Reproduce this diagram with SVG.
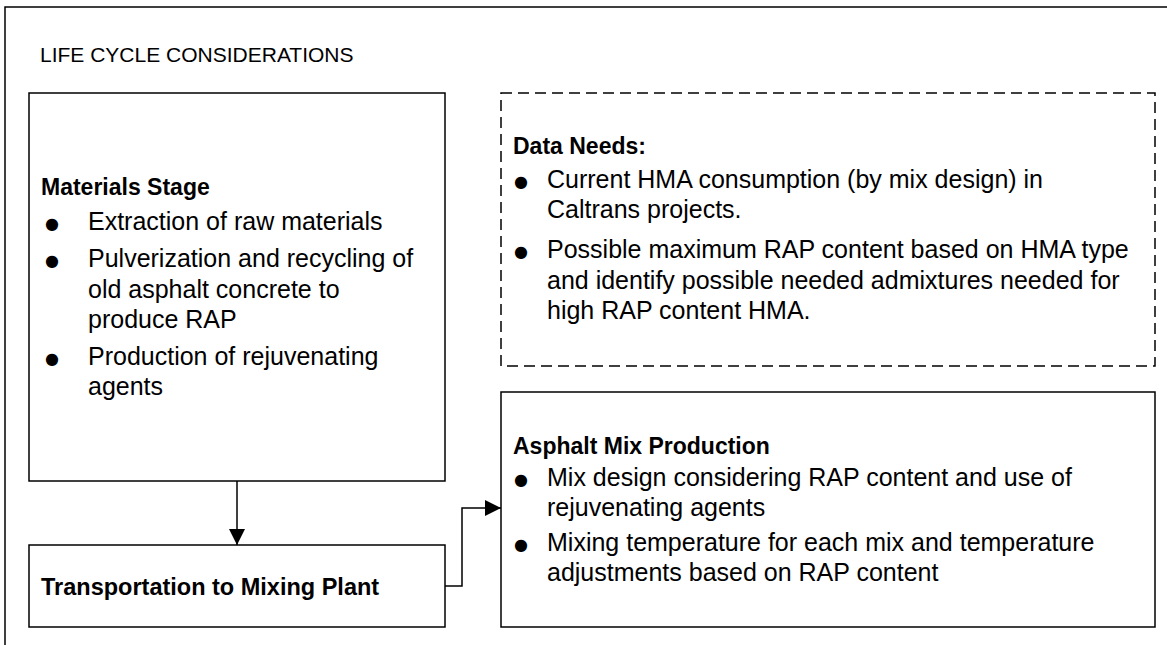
<svg xmlns="http://www.w3.org/2000/svg" width="1167" height="645" viewBox="0 0 1167 645">
<style>
.box{fill:#fff;stroke:#000;stroke-width:1.5}
.dash{fill:#fff;stroke:#000;stroke-width:1.5;stroke-dasharray:11 6}
.t{font-family:"Liberation Sans",Arial,sans-serif;font-size:25px;fill:#000}
.h{font-family:"Liberation Sans",Arial,sans-serif;font-size:23px;font-weight:bold;fill:#000}
.bu{font-family:"DejaVu Sans","Liberation Sans",sans-serif;font-size:16px;fill:#000}
.conn{fill:none;stroke:#000;stroke-width:1.5}
</style>
<defs>
<marker id="ah" viewBox="0 0 10 10" refX="10" refY="5" markerWidth="16" markerHeight="16" markerUnits="userSpaceOnUse" orient="auto">
<path d="M0,0 L10,5 L0,10 z" fill="#000"/>
</marker>
</defs>
<rect width="1167" height="645" fill="#fff"/>
<g id="frame">
<rect x="5" y="7" width="1200" height="700" fill="none" stroke="#000" stroke-width="1.5"/>
<text class="t" x="40" y="62" style="font-size:21px">LIFE CYCLE CONSIDERATIONS</text>
</g>
<g id="materials">
<rect class="box" x="29" y="93" width="416" height="388"/>
<text class="h" x="41" y="195">Materials Stage</text>
<text class="bu" x="45" y="229">●</text><text class="t" x="88" y="230">Extraction of raw materials</text>
<text class="bu" x="45" y="266">●</text><text class="t" x="88" y="267">Pulverization and recycling of</text>
<text class="t" x="88" y="298">old asphalt concrete to</text>
<text class="t" x="88" y="328">produce RAP</text>
<text class="bu" x="45" y="364">●</text><text class="t" x="88" y="365">Production of rejuvenating</text>
<text class="t" x="88" y="395">agents</text>
</g>
<g id="transport">
<rect class="box" x="29" y="545" width="416" height="82"/>
<text class="h" x="41" y="595" style="font-size:23.5px">Transportation to Mixing Plant</text>
</g>
<g id="dataneeds">
<rect class="dash" x="501" y="93" width="654" height="273"/>
<text class="h" x="513" y="154">Data Needs:</text>
<text class="bu" x="514" y="187">●</text><text class="t" x="547" y="188">Current HMA consumption (by mix design) in</text>
<text class="t" x="547" y="218">Caltrans projects.</text>
<text class="bu" x="514" y="257">●</text><text class="t" x="547" y="258">Possible maximum RAP content based on HMA type</text>
<text class="t" x="547" y="289">and identify possible needed admixtures needed for</text>
<text class="t" x="547" y="319">high RAP content HMA.</text>
</g>
<g id="mixprod">
<rect class="box" x="501" y="392" width="654" height="235"/>
<text class="h" x="513" y="454">Asphalt Mix Production</text>
<text class="bu" x="514" y="485">●</text><text class="t" x="547" y="486">Mix design considering RAP content and use of</text>
<text class="t" x="547" y="516">rejuvenating agents</text>
<text class="bu" x="514" y="550">●</text><text class="t" x="547" y="551">Mixing temperature for each mix and temperature</text>
<text class="t" x="547" y="581">adjustments based on RAP content</text>
</g>
<g id="connectors">
<path class="conn" d="M237,481 V545" marker-end="url(#ah)"/>
<path class="conn" d="M445,586 H462 V508 H501" marker-end="url(#ah)"/>
</g>
</svg>
